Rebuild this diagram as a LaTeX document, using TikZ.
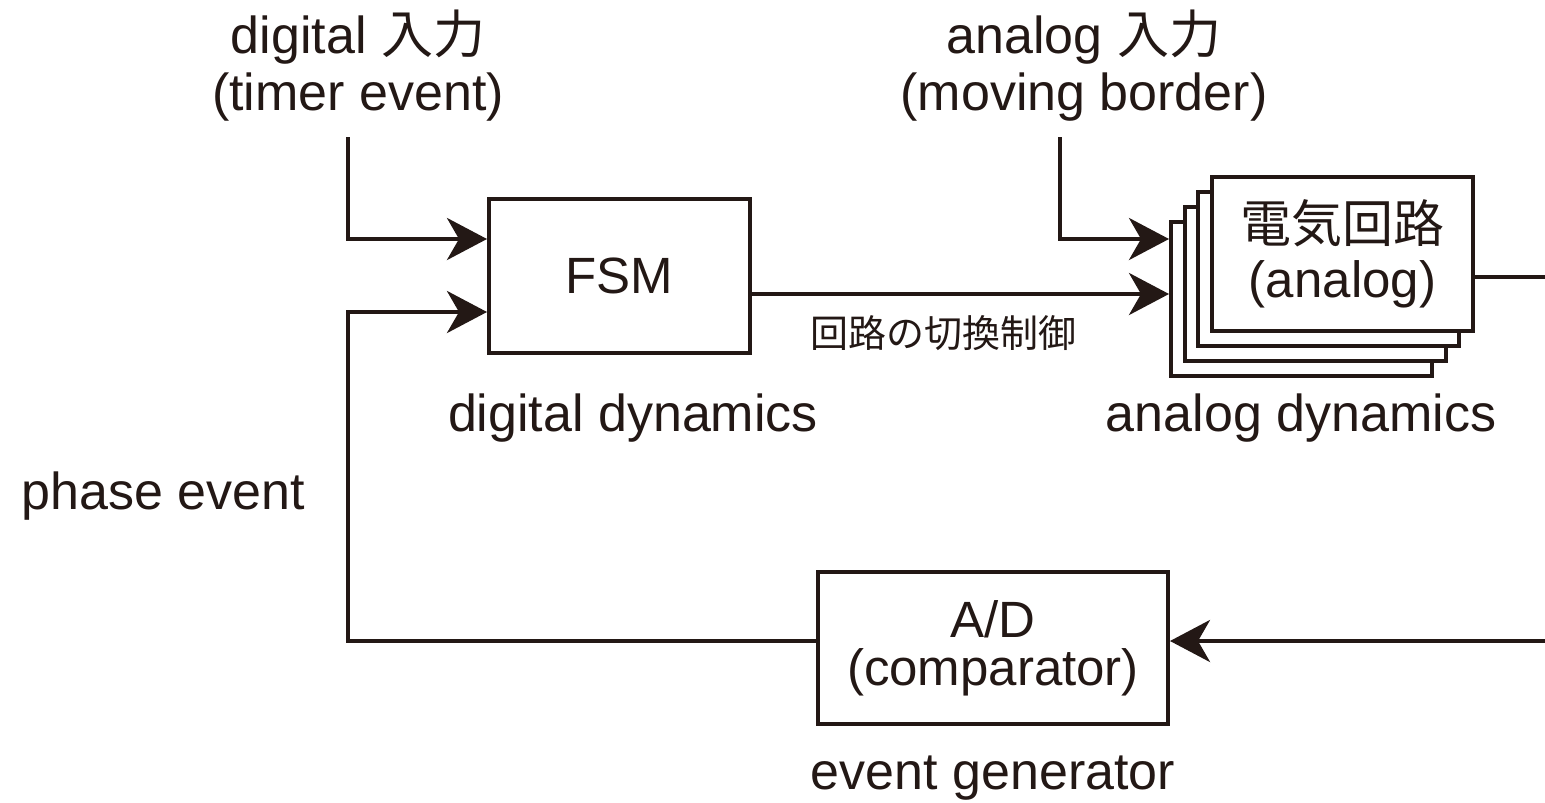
\documentclass[tikz,border=0pt]{standalone}
\usepackage{fontspec}
\setmainfont{Liberation Sans}
\newfontfamily\jp{Noto Sans CJK JP}
\usetikzlibrary{arrows.meta}
\definecolor{ink}{HTML}{231815}
\begin{document}
\begin{tikzpicture}[x=1pt,y=-1pt,
  box/.style={draw=ink, line width=4pt, fill=white, minimum width=261pt, minimum height=154pt, inner sep=0pt, text=ink, font=\fontsize{51}{55}\selectfont, align=center},
  lbl/.style={text=ink, font=\fontsize{52}{57}\selectfont, align=center, inner sep=0pt},
  conn/.style={draw=ink, line width=4pt},
  arr/.style={conn, -{Stealth[length=40pt,width=42pt,inset=12pt]}}]
\useasboundingbox[fill=white] (0,0) rectangle (1545,803);
% boxes
\node[box] (fsm) at (619.5,276) {FSM};
\node[box] (s3) at (1301.5,299) {};
\node[box] (s2) at (1315,284) {};
\node[box] (s1) at (1328.5,269) {};
\node[box] (an) at (1342.5,254) {{\jp 電気回路}\\(analog)};
\node[box, minimum width=350pt, minimum height=152pt, font=\fontsize{51}{48}\selectfont] (ad) at (993,648) {A/D\\(comparator)};
% free ends
\coordinate (din) at (348,137);
\coordinate (ain) at (1060,137);
\coordinate (aout) at (1545,277);
\coordinate (fb) at (1545,641);
\coordinate (corner) at (348,641);
% connectors
\draw[arr] (din) |- (fsm.west |- 0,239);
\draw[arr] (ain) |- (s3.west |- 0,239);
\draw[arr] (fsm.east |- 0,294) -- (s3.west |- 0,294);
\draw[conn] (an.east |- 0,277) -- (aout);
\draw[arr] (fb) -- (ad.east |- 0,641);
\draw[arr] (ad.west |- 0,641) -- (corner) |- (fsm.west |- 0,312);
% labels
\node[lbl] (dinl) at (358,66) {digital {\jp 入力}\\(timer event)};
\node[lbl] (ainl) at (1084,66) {analog {\jp 入力}\\(moving border)};
\node[lbl, font=\jp\fontsize{38}{38}\selectfont] (ctl) at (943,333) {回路の切換制御};
\node[lbl] (dd) at (633,418) {digital dynamics};
\node[lbl] (ad2) at (1301,418) {analog dynamics};
\node[lbl] (pe) at (163,496) {phase event};
\node[lbl] (eg) at (993,778) {event generator};
\end{tikzpicture}
\end{document}
